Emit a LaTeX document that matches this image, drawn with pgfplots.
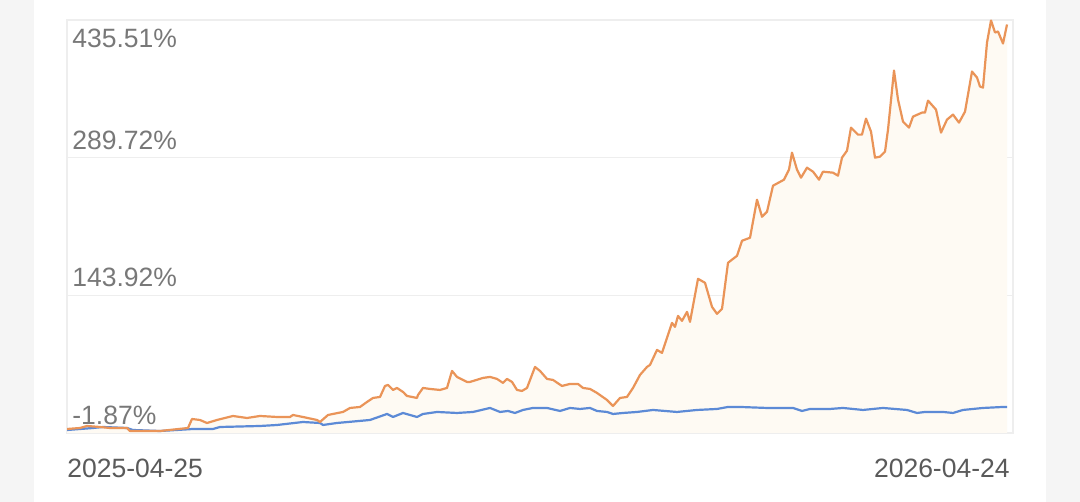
\documentclass[border=0pt]{standalone}
\usepackage{pgfplots}
\usepackage{pgfplotstable}
\pgfplotsset{compat=1.18}
\usepackage{fontspec}
\setmainfont{Liberation Sans}
\definecolor{bggray}{RGB}{245,245,245}
\definecolor{lineorange}{RGB}{234,148,88}
\definecolor{lineblue}{RGB}{92,138,214}
\definecolor{fillcream}{RGB}{254,250,243}
\definecolor{gridgray}{RGB}{238,238,238}
\definecolor{ylabgray}{RGB}{120,120,120}
\definecolor{xlabgray}{RGB}{90,90,90}

\pgfplotstableread{
x y
67 2.37
80 3.43
87 5.55
100 4.49
110 3.43
127 3.43
130 0.25
160 0.25
188 3.43
192 12.97
200 11.91
207 8.73
217 11.91
233 16.16
247 14.03
260 16.16
277 15.09
290 15.09
293 17.22
303 15.09
317 11.91
320 9.79
328 17.22
343 20.40
350 24.64
360 25.70
367 31.00
373 35.24
380 36.30
385 47.96
388 49.02
393 43.72
397 45.84
403 41.60
407 37.36
417 35.24
418 38.42
423 45.84
430 44.78
440 43.72
447 45.84
452 63.87
457 57.51
467 52.21
470 52.21
483 56.45
490 57.51
497 55.39
503 51.15
507 55.39
512 52.21
517 43.72
522 42.66
527 45.84
535 68.11
540 63.87
547 55.39
553 54.33
562 47.96
570 50.08
578 50.08
583 45.84
590 44.78
597 40.54
607 33.12
613 26.76
620 35.24
627 36.30
633 45.84
640 59.63
647 68.11
650 70.23
657 86.13
662 82.95
672 114.76
675 110.52
678 122.18
682 116.88
687 126.43
690 115.82
698 161.42
705 157.18
712 131.73
717 124.31
722 129.61
728 178.38
737 185.80
742 201.71
750 204.89
757 245.18
762 227.15
767 232.46
773 260.02
784 266.39
789 276.99
792 295.01
797 276.99
801 268.51
807 279.11
813 274.87
819 266.39
823 274.87
833 273.81
838 270.63
842 289.71
847 297.13
851 321.52
858 314.10
862 314.10
866 331.06
871 317.28
875 289.71
880 290.77
885 296.07
888 319.40
894 381.96
898 351.21
903 327.88
909 321.52
913 333.19
922 337.43
925 337.43
928 350.15
936 340.61
941 316.22
947 330.00
953 335.31
959 326.82
965 338.49
972 380.90
977 374.54
980 364.99
983 363.93
987 411.65
991 434.97
995 422.25
998 423.31
1003 410.59
1007 430.73
}\orangedata

\pgfplotstableread{
x y
67 1.31
93 3.43
103 4.49
127 3.43
133 1.31
160 0.25
193 2.37
213 2.37
220 4.49
260 5.55
277 6.61
303 9.79
320 8.73
323 6.61
337 8.73
370 11.91
387 18.28
393 15.09
403 19.34
417 15.09
423 18.28
437 20.40
457 19.34
473 20.40
490 24.64
500 20.40
508 21.46
515 19.34
523 22.52
533 24.64
547 24.64
560 21.46
570 24.64
580 23.58
590 24.64
597 21.46
607 20.40
613 18.28
623 19.34
637 20.40
653 22.52
677 20.40
697 22.52
717 23.58
728 25.70
740 25.70
767 24.64
793 24.64
802 21.46
810 23.58
830 23.58
843 24.64
863 22.52
883 24.64
907 22.52
917 19.34
925 20.40
943 20.40
953 19.34
963 22.52
983 24.64
1003 25.70
1007 25.70
}\bluedata

\begin{document}
\begin{tikzpicture}
\useasboundingbox (0,0) rectangle (540pt,251pt);
\fill[bggray] (0,0) rectangle (540pt,251pt);
\fill[white] (17pt,0) rectangle (523pt,251pt);
\begin{axis}[
  at={(33.5pt,34.5pt)}, anchor=south west,
  scale only axis, width=473pt, height=206.5pt,
  xmin=67, xmax=1013, ymin=-1.87, ymax=435.51,
  xtick=\empty,
  ytick={-1.87,143.92,289.72,435.51},
  yticklabels={},
  major tick length=0pt,
  ymajorgrids, major grid style={gridgray, line width=0.6pt},
  axis line style={gridgray, line width=0.6pt},
  clip=true,
]
\addplot[draw=none, fill=fillcream] table[x=x,y=y] {\orangedata} |- (axis cs:1007,-1.87) -- (axis cs:67,-1.87) -- cycle;
\addplot[lineblue, line width=1.1pt, line join=round] table[x=x,y=y] {\bluedata};
\addplot[lineorange, line width=1.1pt, line join=round] table[x=x,y=y] {\orangedata};
\end{axis}
\begin{scope}[every node/.style={inner sep=0pt, font=\fontsize{13.25}{15}\selectfont}]
\node[anchor=base west, text=ylabgray] at (36pt,227pt) {435.51\%};
\node[anchor=base west, text=ylabgray] at (36pt,176pt) {289.72\%};
\node[anchor=base west, text=ylabgray] at (36pt,107.5pt) {143.92\%};
\node[anchor=base west, text=ylabgray] at (36pt,38.5pt) {-1.87\%};
\node[anchor=base west, text=xlabgray] at (33.5pt,12pt) {2025-04-25};
\node[anchor=base east, text=xlabgray] at (505pt,12pt) {2026-04-24};
\end{scope}
\end{tikzpicture}
\end{document}
